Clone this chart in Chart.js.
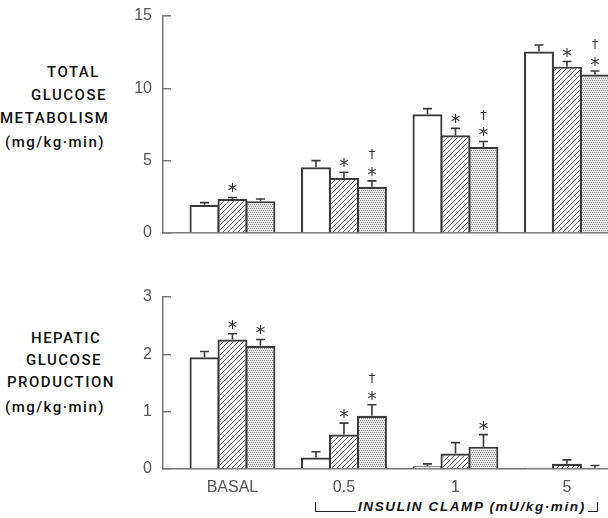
<!DOCTYPE html>
<html>
<head>
<meta charset="utf-8">
<script src="https://cdn.jsdelivr.net/npm/chart.js@4.4.1/dist/chart.umd.min.js"></script>
<style>
  html, body { margin: 0; padding: 0; background: #fff; }
  body { width: 608px; height: 518px; position: relative; overflow: hidden; font-family: "Liberation Sans", Arial, sans-serif; }
  canvas { position: absolute; left: 0; }
  .ylab { position: absolute; font-family: Roboto, "Liberation Sans", sans-serif; font-weight: 500; font-size: 15px; letter-spacing: 1.5px; color: #111; white-space: nowrap; line-height: 18px; }
  #bracket { position: absolute; left: 315px; top: 502px; width: 281px; height: 9px; border: 1.6px solid #222; border-top: none; }
  #clamp { position: absolute; left: 356px; top: 499px; padding: 0 2px; background: #fff; font-size: 13.5px; font-weight: bold; font-style: italic; letter-spacing: 1.6px; color: #111; white-space: nowrap; line-height: 16px; }
</style>
</head>
<body>
<div class="ylab" style="left:47px;top:63px">TOTAL</div>
<div class="ylab" style="left:31px;top:86px">GLUCOSE</div>
<div class="ylab" style="left:0px;top:109px">METABOLISM</div>
<div class="ylab" style="left:5px;top:133px">(mg/kg·min)</div>

<div class="ylab" style="left:31px;top:329px">HEPATIC</div>
<div class="ylab" style="left:26px;top:351px">GLUCOSE</div>
<div class="ylab" style="left:7px;top:373px">PRODUCTION</div>
<div class="ylab" style="left:5px;top:398px">(mg/kg·min)</div>

<canvas id="topChart" width="608" height="250" style="top:0px"></canvas>
<canvas id="bottomChart" width="608" height="238" style="top:280px"></canvas>

<div id="bracket"></div>
<div id="clamp">INSULIN CLAMP (mU/kg·min)</div>

<script>
const groups = ['BASAL', '0.5', '1', '5'];
const groupPos = [0, 1, 2, 3];

// total glucose metabolism (mg/kg·min)
const totalA = [1.95, 4.55, 8.2, 12.55];
const totalAErr = [0.15, 0.45, 0.4, 0.45];
const totalB = [2.35, 3.8, 6.75, 11.5];
const totalBErr = [0.1, 0.4, 0.48, 0.35];
const totalC = [2.2, 3.2, 5.95, 10.95];
const totalCErr = [0.15, 0.4, 0.38, 0.25];
const totalBMarks = ['*', '*', '*', '*'];
const totalCMarks = ['', '*†', '*†', '*†'];
const totalTicks = [0, 5, 10, 15];

// hepatic glucose production (mg/kg·min)
const hepA = [1.95, 0.2, 0.05, 0.02];
const hepAErr = [0.1, 0.1, 0.04, 0];
const hepB = [2.26, 0.6, 0.27, 0.09];
const hepBErr = [0.1, 0.2, 0.19, 0.07];
const hepC = [2.15, 0.93, 0.39, 0.02];
const hepCErr = [0.11, 0.19, 0.21, 0.04];
const hepBMarks = ['*', '*', '', ''];
const hepCMarks = ['*', '*†', '*', ''];
const hepTicks = [0, 1, 2, 3];

// fill patterns
function makeHatch() {
    const c = document.createElement('canvas');
    c.width = c.height = 5;
    const g = c.getContext('2d');
    g.fillStyle = '#fff';
    g.fillRect(0, 0, 5, 5);
    g.strokeStyle = '#666';
    g.lineWidth = 1;
    g.beginPath();
    for (const k of [-5, 0, 5]) {
        g.moveTo(k - 1, 6);
        g.lineTo(k + 6, -1);
    }
    g.stroke();
    return g.createPattern(c, 'repeat');
}
function makeDots() {
    const c = document.createElement('canvas');
    c.width = c.height = 4;
    const g = c.getContext('2d');
    g.fillStyle = '#e8e8e8';
    g.fillRect(0, 0, 4, 4);
    g.fillStyle = '#909090';
    g.fillRect(0, 0, 1, 1);
    g.fillRect(2, 0, 1, 1);
    g.fillRect(1, 2, 1, 1);
    g.fillRect(3, 2, 1, 1);
    return g.createPattern(c, 'repeat');
}
const hatch = makeHatch();
const dots = makeDots();

const errorBars = {
    id: 'errorBars',
    afterDatasetsDraw(chart) {
        const ctx = chart.ctx;
        const y = chart.scales.y;
        chart.data.datasets.forEach((ds, i) => {
            const meta = chart.getDatasetMeta(i);
            meta.data.forEach((bar, j) => {
                const e = ds.errors[j];
                const top = y.getPixelForValue(ds.data[j].y + e);
                ctx.save();
                ctx.strokeStyle = '#3a3a3a';
                ctx.lineWidth = 1.6;
                if (e > 0) {
                    ctx.beginPath();
                    ctx.moveTo(bar.x, bar.y);
                    ctx.lineTo(bar.x, top);
                    ctx.moveTo(bar.x - 4.5, top);
                    ctx.lineTo(bar.x + 4.5, top);
                    ctx.stroke();
                }
                const m = ds.marks ? ds.marks[j] : '';
                ctx.fillStyle = '#333';
                ctx.textAlign = 'center';
                ctx.textBaseline = 'middle';
                if (m.includes('*')) {
                    ctx.font = '19px "DejaVu Sans"';
                    ctx.fillText('*', bar.x, top - 5);
                }
                if (m.includes('†')) {
                    ctx.font = '13px "DejaVu Sans"';
                    ctx.fillText('†', bar.x, top - 26);
                }
                ctx.restore();
            });
        });
    }
};

function series(vals, errs, fill, marks) {
    return {
        data: groupPos.map((x, i) => ({ x: x, y: vals[i] })),
        errors: errs,
        marks: marks,
        backgroundColor: fill,
        borderColor: '#3a3a3a',
        borderWidth: 2.2,
        borderSkipped: 'start',
        categoryPercentage: 0.753,
        barPercentage: 1.07
    };
}

function makeChart(id, datasets, yMax, yTicks, showLabels, padTop, xHeight) {
    return new Chart(document.getElementById(id), {
        type: 'bar',
        data: { datasets: datasets },
        plugins: [errorBars],
        options: {
            responsive: false,
            animation: false,
            devicePixelRatio: 1,
            layout: { padding: { top: padTop, left: 0, right: 0, bottom: 0 } },
            plugins: { legend: { display: false }, tooltip: { enabled: false } },
            scales: {
                x: {
                    type: 'linear',
                    min: -0.623,
                    max: 3.368,
                    offset: false,
                    grid: { display: true, offset: false, drawOnChartArea: false, drawTicks: false },
                    border: { display: true, color: '#777', width: 1.5 },
                    afterBuildTicks: s => { s.ticks = groupPos.map(v => ({ value: v })); },
                    afterFit: s => { s.height = xHeight; s.paddingLeft = 0; s.paddingRight = 0; },
                    ticks: {
                        display: showLabels,
                        autoSkip: false,
                        maxRotation: 0,
                        padding: 9,
                        color: '#555',
                        font: { family: '"Liberation Sans", Arial', size: 16 },
                        callback: v => groups[v] || ''
                    }
                },
                y: {
                    min: 0,
                    max: yMax,
                    afterBuildTicks: s => { s.ticks = yTicks.map(v => ({ value: v })); },
                    afterFit: s => { s.width = 163; s.paddingTop = 0; s.paddingBottom = 0; },
                    grid: { drawOnChartArea: false, drawTicks: true, tickLength: -8, color: '#777', lineWidth: 1.5 },
                    border: { display: true, color: '#777', width: 1.5 },
                    ticks: {
                        padding: 19,
                        color: '#555',
                        font: { family: '"Liberation Sans", Arial', size: 16 }
                    }
                }
            }
        }
    });
}

makeChart('topChart', [
    series(totalA, totalAErr, '#fff', null),
    series(totalB, totalBErr, hatch, totalBMarks),
    series(totalC, totalCErr, dots, totalCMarks)
], 15, totalTicks, false, 16, 17);

makeChart('bottomChart', [
    series(hepA, hepAErr, '#fff', null),
    series(hepB, hepBErr, hatch, hepBMarks),
    series(hepC, hepCErr, dots, hepCMarks)
], 3, hepTicks, true, 17, 49);
</script>
</body>
</html>
